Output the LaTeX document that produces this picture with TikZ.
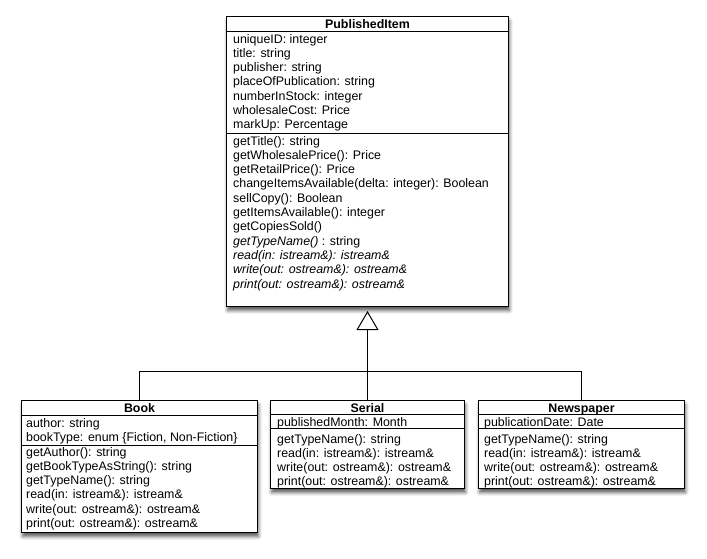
\documentclass[tikz,border=0pt]{standalone}
\usepackage{fontspec}
\setmainfont{Liberation Sans}
\usetikzlibrary{arrows.meta,shadows.blur}
\tikzset{
 classbox/.style={draw=black, line width=1pt, fill=white, inner sep=0pt,
   blur shadow={shadow xshift=1pt, shadow yshift=-4pt, shadow blur radius=3.5pt, shadow opacity=65}},
 txt/.style={anchor=base west, inner sep=0pt, font=\fontsize{12.4}{14}\selectfont},
 ttl/.style={anchor=base, inner sep=0pt, font=\fontsize{12.4}{14}\selectfont\bfseries},
 sepline/.style={line width=1pt},
 conn/.style={line width=1pt},
 gen/.style={conn, -{Triangle[open, fill=white, length=19pt, width=22pt, line width=1pt]}, shorten >=4pt},
}
\newcommand\umltext[4]{\foreach \t [count=\i from 0] in {#4} {\node[txt] (#1-\i) at (#2,{#3+\i*14.3}) {\t};}}
\begin{document}
\begin{tikzpicture}[x=1pt,y=-1pt]
\useasboundingbox (0,0) rectangle (707,558);
% boxes
\node[classbox, minimum width=282pt, minimum height=290pt] (pi) at (367.5,161.5) {};
\node[classbox, minimum width=236pt, minimum height=132pt] (book) at (139.5,466.5) {};
\node[classbox, minimum width=194pt, minimum height=88pt] (serial) at (367.5,444.5) {};
\node[classbox, minimum width=206pt, minimum height=88pt] (news) at (581.5,444.5) {};
% dividers
\draw[sepline] (pi.west |- 0,31.5) -- (pi.east |- 0,31.5);
\draw[sepline] (pi.west |- 0,133.5) -- (pi.east |- 0,133.5);
\draw[sepline] (book.west |- 0,415.5) -- (book.east |- 0,415.5);
\draw[sepline] (book.west |- 0,445.5) -- (book.east |- 0,445.5);
\draw[sepline] (serial.west |- 0,414.5) -- (serial.east |- 0,414.5);
\draw[sepline] (serial.west |- 0,428.5) -- (serial.east |- 0,428.5);
\draw[sepline] (news.west |- 0,414.5) -- (news.east |- 0,414.5);
\draw[sepline] (news.west |- 0,428.5) -- (news.east |- 0,428.5);
% titles
\node[ttl] (pi-t) at (367.5,28.5) {PublishedItem};
\node[ttl] (book-t) at (139.5,412) {Book};
\node[ttl] (serial-t) at (367.5,412) {Serial};
\node[ttl] (news-t) at (581.5,412) {Newspaper};
% PublishedItem
\umltext{pia}{233}{43}{uniqueID: integer, title: string, publisher: string, placeOfPublication: string, numberInStock: integer, wholesaleCost: Price, markUp: Percentage}
\umltext{pim}{233}{145}{getTitle(): string, getWholesalePrice(): Price, getRetailPrice(): Price, changeItemsAvailable(delta: integer): Boolean, sellCopy(): Boolean, getItemsAvailable(): integer, getCopiesSold(), {\textit{getTypeName()} : string}, {\textit{read(in: istream\&): istream\&}}, {\textit{write(out: ostream\&): ostream\&}}, {\textit{print(out: ostream\&): ostream\&}}}
% Book
\umltext{booka}{26}{427}{author: string, {bookType: enum \{Fiction, Non-Fiction\}}}
\umltext{bookm}{26}{456}{getAuthor(): string, getBookTypeAsString(): string, getTypeName(): string, read(in: istream\&): istream\&, write(out: ostream\&): ostream\&, print(out: ostream\&): ostream\&}
% Serial
\umltext{seriala}{277}{426}{publishedMonth: Month}
\umltext{serialm}{277}{443}{getTypeName(): string, read(in: istream\&): istream\&, write(out: ostream\&): ostream\&, print(out: ostream\&): ostream\&}
% Newspaper
\umltext{newsa}{484}{426}{publicationDate: Date}
\umltext{newsm}{484}{443}{getTypeName(): string, read(in: istream\&): istream\&, write(out: ostream\&): ostream\&, print(out: ostream\&): ostream\&}
% connectors
\coordinate (bar) at (367.5,371.5);
\draw[conn] (book.north) |- (bar);
\draw[conn] (bar) -| (news.north);
\draw[gen] (serial.north) -- (pi.south);
\end{tikzpicture}
\end{document}
